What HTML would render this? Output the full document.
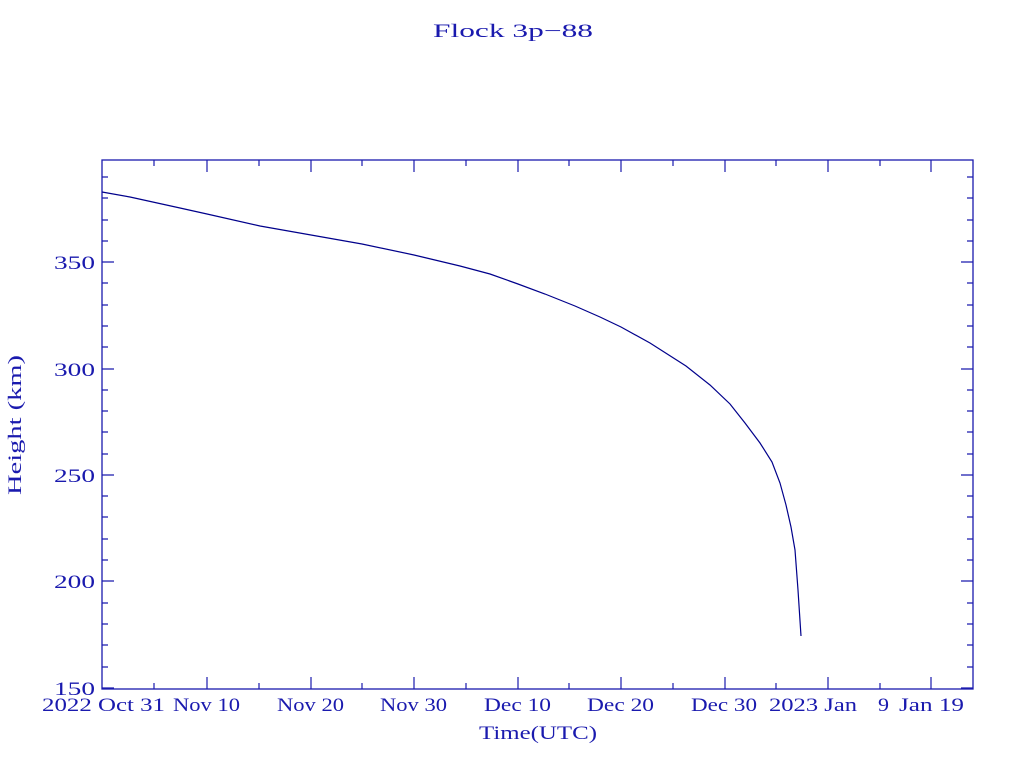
<!DOCTYPE html>
<html><head><style>body{margin:0;background:#fff}svg{display:block}text{font-family:"Liberation Serif",serif;fill:#1a1aae;font-size:19px}</style></head>
<body>
<svg width="1024" height="768" xmlns="http://www.w3.org/2000/svg">
<rect x="102" y="160" width="871" height="529" fill="none" stroke="#1a1aae" stroke-width="1.3"/>
<g stroke="#1a1aae" stroke-width="1.2">
<path d="M102 688h12M102 581h12M102 475h12M102 369h12M102 262h12M973 688h-12M973 581h-12M973 475h-12M973 369h-12M973 262h-12"/>
<path d="M102 667h6M102 645h6M102 624h6M102 603h6M102 560h6M102 539h6M102 517h6M102 496h6M102 454h6M102 432h6M102 411h6M102 390h6M102 347h6M102 326h6M102 305h6M102 283h6M102 241h6M102 220h6M102 198h6M102 177h6
M973 667h-6M973 645h-6M973 624h-6M973 603h-6M973 560h-6M973 539h-6M973 517h-6M973 496h-6M973 454h-6M973 432h-6M973 411h-6M973 390h-6M973 347h-6M973 326h-6M973 305h-6M973 283h-6M973 241h-6M973 220h-6M973 198h-6M973 177h-6"/>
<path d="M207 689v-12M311 689v-12M414 689v-12M518 689v-12M621 689v-12M725 689v-12M828 689v-12M931 689v-12
M207 160v12M311 160v12M414 160v12M518 160v12M621 160v12M725 160v12M828 160v12M931 160v12
M154 689v-6M259 689v-6M362 689v-6M466 689v-6M569 689v-6M673 689v-6M776 689v-6M880 689v-6
M154 160v6M259 160v6M362 160v6M466 160v6M569 160v6M673 160v6M776 160v6M880 160v6"/>
</g>
<polyline fill="none" stroke="#00008b" stroke-width="1.2" points="102,192 130,197 180,208 207,214 260,226 311,235 362,244 414,255 460,266 490,274 518,284 545,294 575,306 600,317 621,327 650,343 686,366 710,385 730,404 745,423 760,443 772,462 780,483 786,505 791,527 795,550 798,590 801,636"/>
<g lengthAdjust="spacingAndGlyphs">
<text x="54" y="269" textLength="41" lengthAdjust="spacingAndGlyphs">350</text>
<text x="54" y="376" textLength="41" lengthAdjust="spacingAndGlyphs">300</text>
<text x="54" y="482" textLength="41" lengthAdjust="spacingAndGlyphs">250</text>
<text x="54" y="588" textLength="41" lengthAdjust="spacingAndGlyphs">200</text>
<text x="54" y="695" textLength="41" lengthAdjust="spacingAndGlyphs">150</text>
<text x="42" y="711" textLength="123" lengthAdjust="spacingAndGlyphs">2022 Oct 31</text>
<text x="173" y="711" textLength="67" lengthAdjust="spacingAndGlyphs">Nov 10</text>
<text x="277" y="711" textLength="67" lengthAdjust="spacingAndGlyphs">Nov 20</text>
<text x="380" y="711" textLength="67" lengthAdjust="spacingAndGlyphs">Nov 30</text>
<text x="484" y="711" textLength="67" lengthAdjust="spacingAndGlyphs">Dec 10</text>
<text x="587" y="711" textLength="67" lengthAdjust="spacingAndGlyphs">Dec 20</text>
<text x="691" y="711" textLength="66" lengthAdjust="spacingAndGlyphs">Dec 30</text>
<text x="769" y="711" textLength="88" lengthAdjust="spacingAndGlyphs">2023 Jan</text>
<text x="878" y="711" textLength="11" lengthAdjust="spacingAndGlyphs">9</text>
<text x="899" y="711" textLength="65" lengthAdjust="spacingAndGlyphs">Jan 19</text>
<text x="479" y="739" font-size="21" textLength="118" lengthAdjust="spacingAndGlyphs">Time(UTC)</text>
<text x="433" y="37" font-size="22" textLength="160" lengthAdjust="spacingAndGlyphs">Flock 3p−88</text>
<text transform="translate(21,495) rotate(-90)" font-size="21" textLength="140" lengthAdjust="spacingAndGlyphs">Height (km)</text>
</g>
</svg>
</body></html>
